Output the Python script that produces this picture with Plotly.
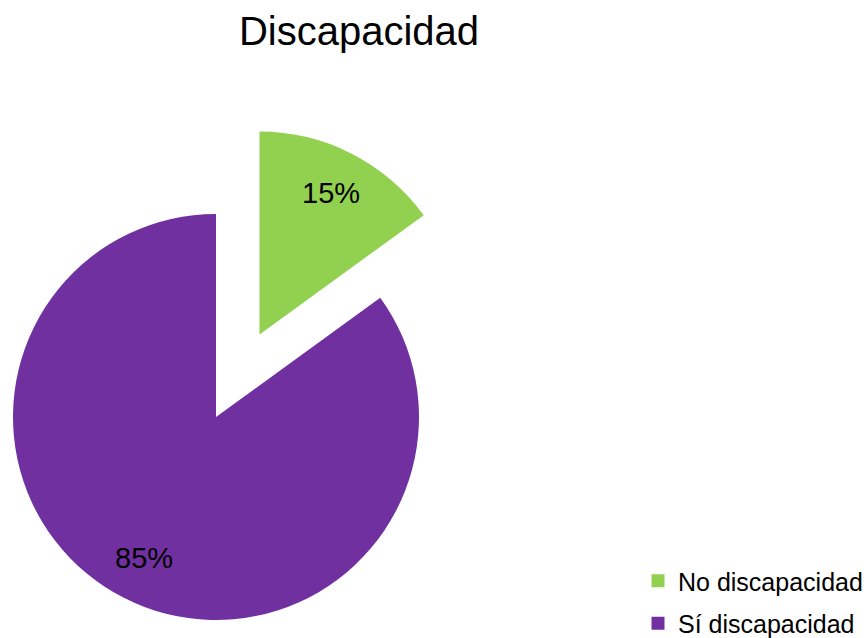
import math
import plotly.graph_objects as go

# Data
labels = ["No discapacidad", "Sí discapacidad"]
values = [15, 85]
colors = ["#92D050", "#7030A0"]
title_text = "Discapacidad"

W, H = 867, 638
FONT = "Liberation Sans"
CLEAR = "rgba(0,0,0,0)"


def px_domain(cx, cy, r):
    """Square pie domain (paper fractions) for a pie of radius r centred at (cx, cy) px."""
    return dict(x=[(cx - r) / W, (cx + r) / W],
                y=[1 - (cy + r) / H, 1 - (cy - r) / H])


R = 203
LABEL_R = 0.78  # radial position of the percentage labels, as a fraction of R
# main pie body and the exploded "No" slice, drawn as two pies sharing the same data
centres = [(216, 417), (259.5, 334.5)]
visible_slice = [1, 0]

total = sum(values)
starts = [sum(values[:i]) for i in range(len(values))]

fig = go.Figure()
annotations = []
for (cx, cy), show in zip(centres, visible_slice):
    fig.add_trace(go.Pie(
        labels=labels,
        values=values,
        sort=False,
        direction="clockwise",
        rotation=0,
        marker=dict(colors=[c if i == show else CLEAR for i, c in enumerate(colors)],
                    line=dict(width=0)),
        textinfo="none",
        domain=px_domain(cx, cy, R),
        showlegend=False,
        hoverinfo="skip",
    ))
    # percentage label at the middle angle of the visible slice
    mid = 2 * math.pi * (starts[show] + values[show] / 2) / total
    lx = cx + LABEL_R * R * math.sin(mid)
    ly = cy - LABEL_R * R * math.cos(mid)
    annotations.append(dict(
        text=f"{round(100 * values[show] / total)}%",
        x=lx / W, y=1 - ly / H, xref="paper", yref="paper",
        xanchor="center", yanchor="middle", showarrow=False,
        font=dict(family=FONT, size=29, color="#000000"),
    ))

# legend entries
for lab, col in zip(labels, colors):
    fig.add_trace(go.Scatter(
        x=[None], y=[None], mode="markers", name=lab, legendgroup=lab,
        marker=dict(symbol="square", size=13, color=col),
    ))

fig.update_layout(
    width=W, height=H,
    margin=dict(l=0, r=0, t=0, b=0, autoexpand=False),
    paper_bgcolor="white",
    plot_bgcolor="white",
    title=dict(text=title_text, x=359 / W, xanchor="center",
               y=1 - 31 / H, yanchor="middle", yref="container",
               font=dict(family=FONT, size=40, color="#000000")),
    xaxis=dict(visible=False),
    yaxis=dict(visible=False),
    annotations=annotations,
    legend=dict(x=638 / W, xanchor="left", y=1 - 558 / H, yanchor="top",
                font=dict(family=FONT, size=25, color="#000000"),
                tracegroupgap=7, bgcolor=CLEAR),
)

fig.write_html("out.html")
